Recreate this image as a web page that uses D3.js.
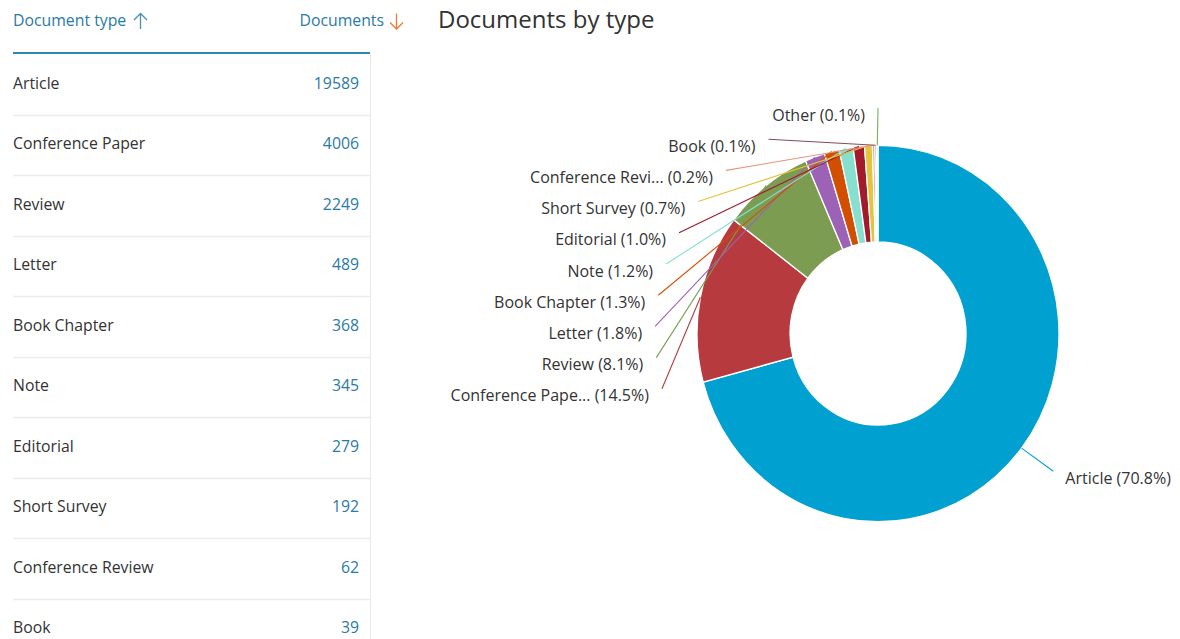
<!DOCTYPE html>
<html>
<head>
<meta charset="utf-8">
<script src="https://cdn.jsdelivr.net/npm/d3@7"></script>
<style>
  html, body { margin: 0; padding: 0; background: #fff; }
  svg { display: block; font-family: "Open Sans", "Noto Sans", sans-serif; }
</style>
</head>
<body>
<svg id="chart" width="1180" height="639"></svg>
<script>
// ---- data ----
const types = ["Article", "Conference Paper", "Review", "Letter", "Book Chapter", "Note",
               "Editorial", "Short Survey", "Conference Review", "Book", "Other"];
const counts = [19589, 4006, 2249, 489, 368, 345, 279, 192, 62, 39, 35];
const colors = ["#00a0d0", "#b73a3f", "#7c9c52", "#9c62b5", "#d24f02", "#87e0cf",
                "#a21a2c", "#e3c43c", "#e8957c", "#8a4953", "#74b35f"];
const tableRows = 10;
const title = "Documents by type";
const headerLeft = "Document type";
const headerRight = "Documents";

// ---- layout ----
const svg = d3.select("#chart");
const W = 1180, H = 639;
svg.append("rect").attr("width", W).attr("height", H).attr("fill", "#fff");

// Table
const tbl = svg.append("g");
const tableLeft = 13, tableRight = 370, numRight = 359;
const rowY = d3.scaleLinear().domain([0, 1]).range([83, 83 + 60.55]);
const fs = 15.8;

const hl = tbl.append("text").attr("x", tableLeft).attr("y", 26).attr("font-size", fs)
  .attr("fill", "#2a7aa6").text(headerLeft);
const hr = tbl.append("text").attr("x", 384).attr("y", 26).attr("font-size", fs)
  .attr("text-anchor", "end").attr("fill", "#2a7aa6").text(headerRight);

function arrow(x, up, color) {
  const y0 = 13.5, y1 = 29;
  const tip = up ? y0 : y1, dir = up ? 1 : -1;
  const p = d3.path();
  p.moveTo(x, y0); p.lineTo(x, y1);
  p.moveTo(x - 6.5, tip + dir * 6.5); p.lineTo(x, tip); p.lineTo(x + 6.5, tip + dir * 6.5);
  tbl.append("path").attr("d", p.toString()).attr("fill", "none")
    .attr("stroke", color).attr("stroke-width", 1.3).attr("stroke-linejoin", "miter");
}
arrow(140.5, true, "#4b8fb8");
arrow(396.5, false, "#ec7a3e");

tbl.append("line").attr("x1", tableLeft).attr("x2", tableRight).attr("y1", 53).attr("y2", 53)
  .attr("stroke", "#2e86b3").attr("stroke-width", 2);
tbl.append("line").attr("x1", tableRight + 0.5).attr("x2", tableRight + 0.5).attr("y1", 54).attr("y2", H)
  .attr("stroke", "#e8e8e8").attr("stroke-width", 1);

const rows = tbl.selectAll("g.row").data(types.slice(0, tableRows)).join("g").attr("class", "row");
rows.append("text").attr("x", tableLeft).attr("y", (d, i) => rowY(i) + 5.5)
  .attr("font-size", fs).attr("fill", "#333").text(d => d);
rows.append("text").attr("x", numRight).attr("y", (d, i) => rowY(i) + 5.5)
  .attr("font-size", fs).attr("fill", "#2a7aa6").attr("text-anchor", "end")
  .text((d, i) => counts[i]);
rows.filter((d, i) => i < tableRows - 1).append("line")
  .attr("x1", tableLeft).attr("x2", tableRight)
  .attr("y1", (d, i) => Math.round(rowY(i) + 31.5) + 0.5)
  .attr("y2", (d, i) => Math.round(rowY(i) + 31.5) + 0.5)
  .attr("stroke", "#ececec").attr("stroke-width", 1.5);

// Title
svg.append("text").attr("x", 438).attr("y", 28).attr("font-size", 24)
  .attr("fill", "#323232").text(title);

// Donut
const cx = 878, cy = 333.5, rOuter = 181, rInner = 88, sy = 1.04;
const total = d3.sum(counts);
const data = types.map((t, i) => ({ name: t, value: counts[i], color: colors[i] }));
const pie = d3.pie().value(d => d.value).sort(null);
const arcs = pie(data);
const arc = d3.arc().innerRadius(rInner).outerRadius(rOuter);

const gp = svg.append("g").attr("transform", `translate(${cx},${cy}) scale(1,${sy})`);
gp.selectAll("path").data(arcs).join("path")
  .attr("d", arc).attr("fill", d => d.data.color)
  .attr("stroke", "#fff").attr("stroke-width", 1.3);

// Labels
const fmt = d3.format(".1%");
const labelText = d => {
  const n = d.data.name.length > 15 ? d.data.name.slice(0, 15) + "..." : d.data.name;
  return `${n} (${fmt(d.data.value / total)})`;
};
const R = 223, gap = 31.2;
arcs.forEach(d => {
  d.mid = (d.startAngle + d.endAngle) / 2;
  d.px = cx + rOuter * Math.sin(d.mid);
  d.py = cy - rOuter * sy * Math.cos(d.mid);
  d.left = Math.sin(d.mid) < 0;
  d.ly = cy - R * Math.cos(d.mid) + (Math.sin(d.mid) < 0 ? 0 : 2);
});
const leftArcs = arcs.filter(d => d.left).sort((a, b) => b.mid - a.mid);
let prev = -Infinity;
leftArcs.forEach(d => {
  d.ly = Math.max(d.ly - 2.5, prev + gap);
  prev = d.ly;
});
arcs.forEach(d => {
  const dy = d.ly - cy;
  const dx = Math.sqrt(Math.max(0, R * R - dy * dy));
  d.lx = d.left ? cx - dx : cx + dx;
});

const gl = svg.append("g");
gl.selectAll("line").data(arcs).join("line")
  .attr("x1", d => d.px).attr("y1", d => d.py)
  .attr("x2", d => d.lx).attr("y2", d => d.ly)
  .attr("stroke", d => d.data.color).attr("stroke-width", 1.1);
gl.selectAll("text").data(arcs).join("text")
  .attr("x", d => d.left ? d.lx - 13 : d.lx + 12)
  .attr("y", d => d.ly + 12.5)
  .attr("text-anchor", d => d.left ? "end" : "start")
  .attr("font-size", 16).attr("fill", "#333")
  .text(labelText);
</script>
</body>
</html>
